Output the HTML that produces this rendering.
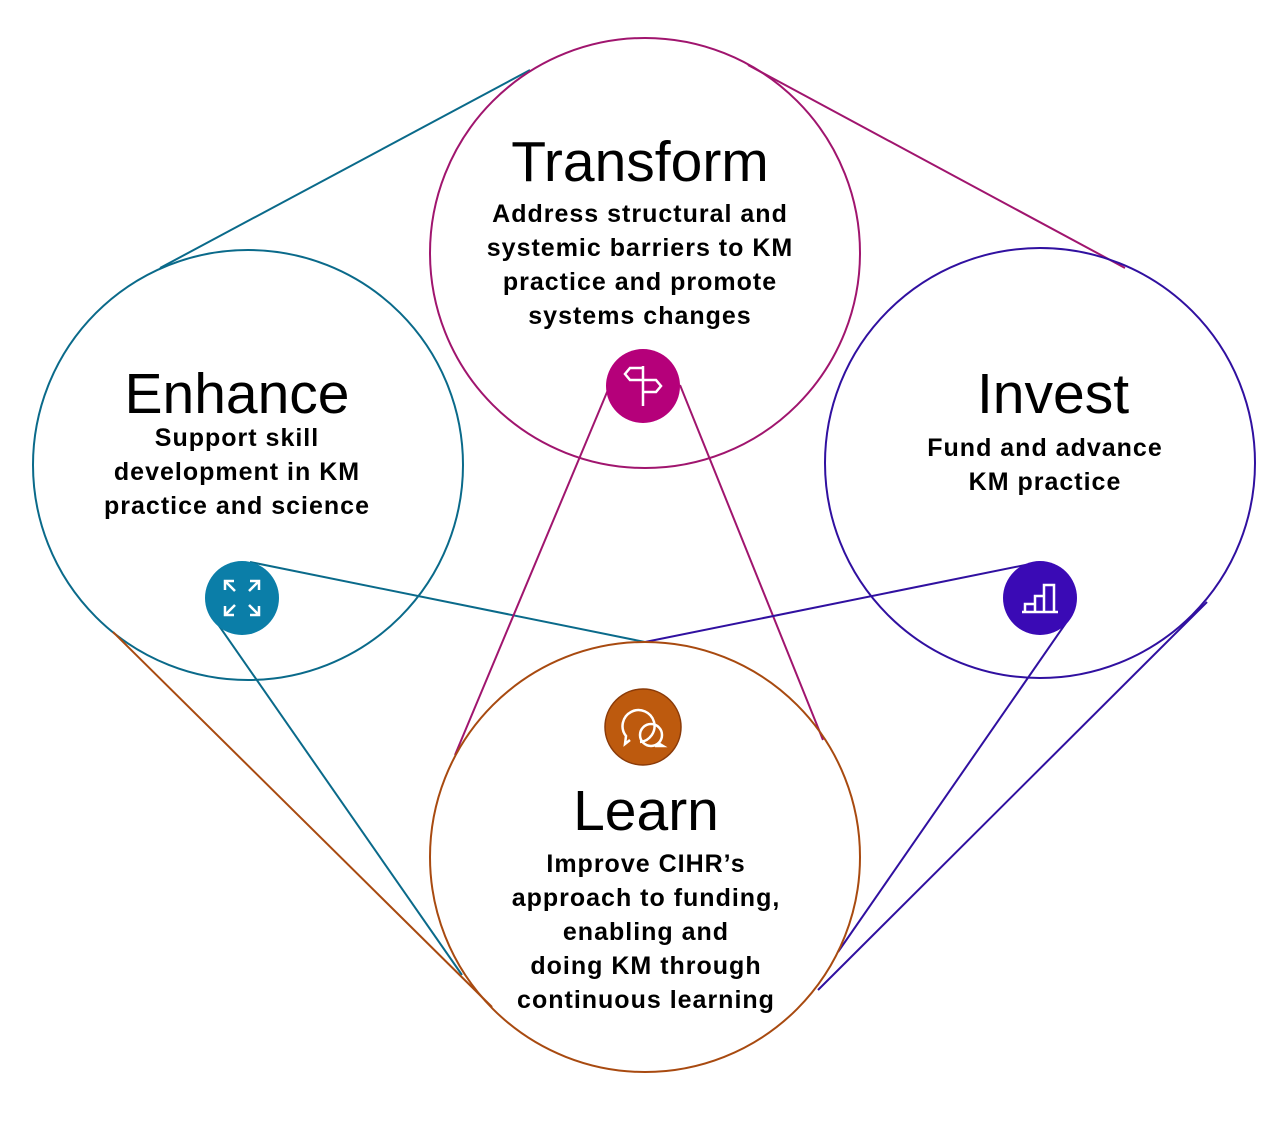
<!DOCTYPE html>
<html><head><meta charset="utf-8"><style>
html,body{margin:0;padding:0;background:#fff;}
svg{display:block}
text{font-family:"Liberation Sans",sans-serif;fill:#000;text-anchor:middle}
.t{font-size:57px}
.b{font-size:25px;font-weight:bold;letter-spacing:1px}
</style></head><body>
<svg width="1275" height="1131" viewBox="0 0 1275 1131" xmlns="http://www.w3.org/2000/svg">
<g fill="none" stroke-width="2">
<line x1="160" y1="268" x2="530" y2="70" stroke="#0a6a8a"/>
<line x1="215" y1="620" x2="462" y2="975" stroke="#0a6a8a"/>
<line x1="250" y1="562" x2="645" y2="642" stroke="#0a6a8a"/>
<circle cx="248" cy="465" r="215" stroke="#0a6a8a"/>
<line x1="113" y1="632" x2="492" y2="1007" stroke="#a84a10"/>
<line x1="748" y1="65" x2="1125" y2="268" stroke="#a0156e"/>
<line x1="610" y1="385" x2="455" y2="755" stroke="#a0156e"/>
<line x1="680" y1="385" x2="823" y2="740" stroke="#a0156e"/>
<circle cx="645" cy="253" r="215" stroke="#a0156e"/>
<line x1="1040" y1="562" x2="645" y2="642" stroke="#3010a0"/>
<line x1="1068" y1="620" x2="838" y2="952" stroke="#3010a0"/>
<line x1="1207" y1="602" x2="818" y2="990" stroke="#3010a0"/>
<circle cx="1040" cy="463" r="215" stroke="#3010a0"/>
<circle cx="645" cy="857" r="215" stroke="#a84a10"/>
</g>
<circle cx="643" cy="386" r="37" fill="#b5007a"/>
<g stroke="#fff" stroke-width="2.5" fill="none">
<line x1="643" y1="366" x2="643" y2="406"/>
<path d="M643 368 h-13 l-5 6 l5 6 h13"/>
<path d="M643 380 h13 l5 6 l-5 6 h-13"/>
</g>
<circle cx="242" cy="598" r="37" fill="#0b7ea8"/>
<g stroke="#fff" stroke-width="2.5" fill="none">
<path d="M225 590 v-9 h9 M225 581 l10 10"/>
<path d="M259 590 v-9 h-9 M259 581 l-10 10"/>
<path d="M225 606 v9 h9 M225 615 l10 -10"/>
<path d="M259 606 v9 h-9 M259 615 l-10 -10"/>
</g>
<circle cx="1040" cy="598" r="37" fill="#3a0ab5"/>
<g stroke="#fff" stroke-width="2.5" fill="none">
<path d="M1022 612 h36 M1025 612 v-8 h10 v8 M1035 612 v-16 h9 v16 M1044 612 v-27 h10 v27"/>
</g>
<circle cx="643" cy="727" r="38" fill="#bd5a0e" stroke="#8a3a08" stroke-width="1.5"/>
<g stroke="#fff" stroke-width="2.5" fill="none">
<path d="M630 740 l-5 4 l1 -8 a16 16 0 1 1 14 6"/>
<circle cx="651" cy="735" r="11"/>
<path d="M658 743 l5 3 h-8"/>
</g>
<text class="t" x="640" y="181">Transform</text>
<text class="b" x="640" y="222">Address structural and</text>
<text class="b" x="640" y="256">systemic barriers to KM</text>
<text class="b" x="640" y="290">practice and promote</text>
<text class="b" x="640" y="324">systems changes</text>
<text class="t" x="237" y="413">Enhance</text>
<text class="b" x="237" y="446">Support skill</text>
<text class="b" x="237" y="480">development in KM</text>
<text class="b" x="237" y="514">practice and science</text>
<text class="t" x="1053" y="413">Invest</text>
<text class="b" x="1045" y="456">Fund and advance</text>
<text class="b" x="1045" y="490">KM practice</text>
<text class="t" x="646" y="830">Learn</text>
<text class="b" x="646" y="872">Improve CIHR’s</text>
<text class="b" x="646" y="906">approach to funding,</text>
<text class="b" x="646" y="940">enabling and</text>
<text class="b" x="646" y="974">doing KM through</text>
<text class="b" x="646" y="1008">continuous learning</text>
</svg>
</body></html>
